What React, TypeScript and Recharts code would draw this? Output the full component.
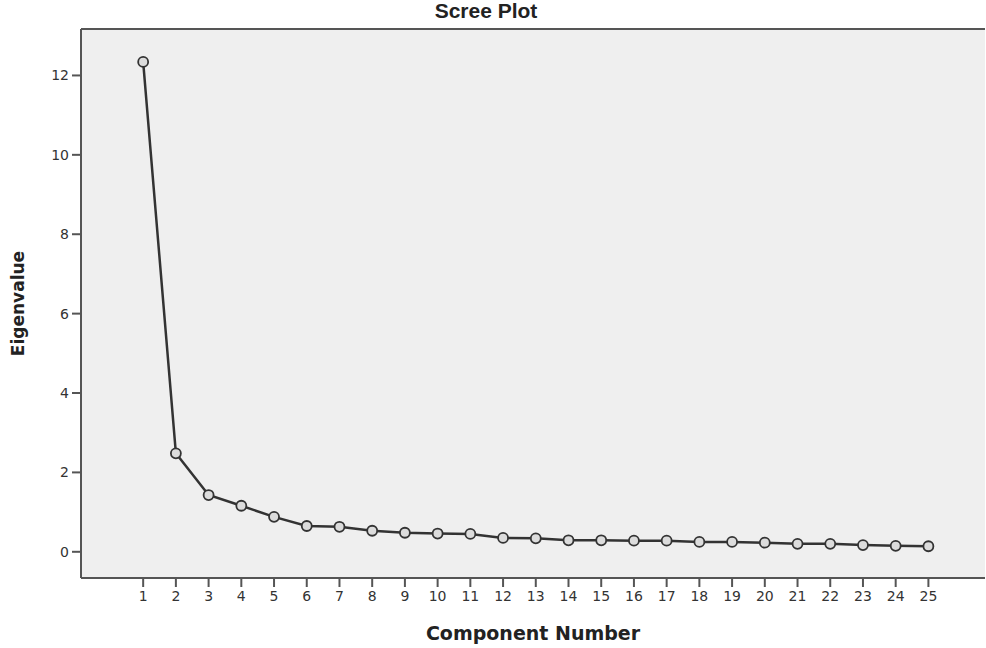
import { LineChart, Line, XAxis, YAxis, CartesianGrid, ReferenceLine } from "recharts";

// component numbers and eigenvalues
const components = [1, 2, 3, 4, 5, 6, 7, 8, 9, 10, 11, 12, 13, 14, 15, 16, 17, 18, 19, 20, 21, 22, 23, 24, 25];
const eigenvalues = [
  12.34, 2.48, 1.43, 1.16, 0.88, 0.65, 0.63, 0.53, 0.48, 0.46, 0.45, 0.35, 0.34,
  0.29, 0.29, 0.28, 0.28, 0.25, 0.25, 0.23, 0.2, 0.2, 0.17, 0.15, 0.14,
];
const yTicks = [0, 2, 4, 6, 8, 10, 12];

const X_DOMAIN: [number, number] = [-0.9, 26.73];
const Y_DOMAIN: [number, number] = [-0.66, 13.17];

const data = components.map((c, i) => ({ component: c, value: eigenvalues[i] }));

const axisColor = "#555";
const font = "Verdana, 'DejaVu Sans', sans-serif";
const tickFont = { fontSize: 14, fontFamily: font, fill: "#333" };

export default function App() {
  return (
    <div style={{ position: "absolute", left: 0, top: 0, width: 986, height: 648, background: "#fff" }}>
      <div
        style={{
          position: "absolute",
          top: 0,
          left: 0,
          width: 972,
          textAlign: "center",
          fontFamily: "Arial, 'Liberation Sans', sans-serif",
          fontWeight: "bold",
          fontSize: 21,
          lineHeight: "22px",
          color: "#222",
        }}
      >
        Scree Plot
      </div>
      <LineChart width={986} height={648} data={data} margin={{ top: 29, right: 1, bottom: 0, left: 0 }}>
        <CartesianGrid horizontal={false} vertical={false} fill="#efefef" stroke="none" />
        <ReferenceLine y={Y_DOMAIN[1]} stroke={axisColor} strokeWidth={2} />
        <XAxis
          dataKey="component"
          type="number"
          domain={X_DOMAIN}
          allowDataOverflow
          ticks={components}
          interval={0}
          height={70}
          tickSize={9}
          tickMargin={4}
          tick={tickFont}
          tickLine={{ stroke: axisColor, strokeWidth: 2 }}
          axisLine={{ stroke: axisColor, strokeWidth: 2 }}
          label={{
            value: "Component Number",
            position: "insideBottom",
            offset: 8,
            style: { fontSize: 19, fontWeight: "bold", fontFamily: font, fill: "#222" },
          }}
        />
        <YAxis
          type="number"
          domain={Y_DOMAIN}
          allowDataOverflow
          ticks={yTicks}
          width={81}
          tickSize={9}
          tickMargin={3}
          tick={tickFont}
          tickLine={{ stroke: axisColor, strokeWidth: 2 }}
          axisLine={{ stroke: axisColor, strokeWidth: 2 }}
          label={{
            value: "Eigenvalue",
            angle: -90,
            position: "insideLeft",
            offset: 18,
            style: {
              fontSize: 17,
              fontWeight: "bold",
              fontFamily: font,
              fill: "#222",
              textAnchor: "middle",
            },
          }}
        />
        <Line
          type="linear"
          dataKey="value"
          stroke="#333"
          strokeWidth={2.5}
          dot={{ r: 5, stroke: "#333", strokeWidth: 1.8, fill: "#dcdcdc" }}
          activeDot={false}
          isAnimationActive={false}
        />
      </LineChart>
    </div>
  );
}
